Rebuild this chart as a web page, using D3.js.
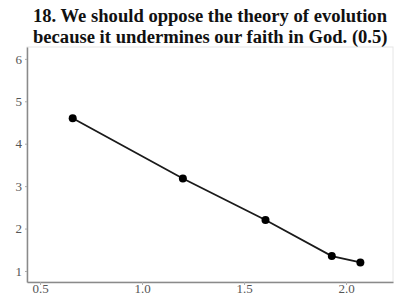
<!DOCTYPE html>
<html>
<head>
<meta charset="utf-8">
<script src="https://cdn.jsdelivr.net/npm/d3@7"></script>
<style>
  body { margin: 0; background: #fff; }
  svg { display: block; }
</style>
</head>
<body>
<svg id="chart"></svg>
<script>
// data
const titleLines = ["18. We should oppose the theory of evolution", "because it undermines our faith in God. (0.5)"];
const xValues = [0.66, 1.20, 1.605, 1.93, 2.07];
const yValues = [4.60, 3.18, 2.20, 1.35, 1.20];
const xTicks = [0.5, 1.0, 1.5, 2.0];
const yTicks = [1, 2, 3, 4, 5, 6];

const width = 395, height = 300;
const margin = {top: 47, right: 2, bottom: 18, left: 27};

const svg = d3.select("#chart")
  .attr("width", width)
  .attr("height", height);

const x = d3.scaleLinear().domain([0.436, 2.23]).range([margin.left, width - margin.right]);
const y = d3.scaleLinear().domain([0.74, 6.28]).range([height - margin.bottom, margin.top]);

// faint panel border
svg.append("rect")
  .attr("x", margin.left).attr("y", margin.top)
  .attr("width", width - margin.left - margin.right)
  .attr("height", height - margin.top - margin.bottom)
  .attr("fill", "none").attr("stroke", "#e6e6e6").attr("stroke-width", 1);

// title
svg.append("text")
  .attr("x", 33).attr("y", 22)
  .style("font-family", "'Liberation Serif', 'Times New Roman', serif")
  .style("font-weight", "bold")
  .style("font-size", "18.6px")
  .attr("fill", "#111")
  .selectAll("tspan")
  .data(titleLines)
  .enter().append("tspan")
    .attr("x", 33)
    .attr("dy", (d, i) => i == 0 ? 0 : 21)
    .text(d => d);

// axes
const xAxis = svg.append("g")
  .attr("transform", `translate(0,${height - margin.bottom})`)
  .call(d3.axisBottom(x).tickValues(xTicks).tickFormat(d3.format(".1f")).tickSize(3).tickSizeOuter(0));
const yAxis = svg.append("g")
  .attr("transform", `translate(${margin.left},0)`)
  .call(d3.axisLeft(y).tickValues(yTicks).tickFormat(d3.format("d")).tickSize(2).tickSizeOuter(0));

[xAxis, yAxis].forEach(g => {
  g.select(".domain").attr("stroke", "#8a8a8a").attr("stroke-width", 1.5);
  g.selectAll(".tick line").attr("stroke", "#aaa");
  g.selectAll("text")
    .style("font-family", "'Liberation Serif', 'Times New Roman', serif")
    .style("font-size", "13px")
    .attr("fill", "#555");
});
xAxis.selectAll("text").attr("y", 2).attr("dy", "0.71em");
yAxis.selectAll("text").attr("x", -5);

// line + points
const pts = xValues.map((v, i) => [v, yValues[i]]);
svg.append("path")
  .datum(pts)
  .attr("fill", "none")
  .attr("stroke", "#1a1a1a")
  .attr("stroke-width", 1.8)
  .attr("d", d3.line().x(d => x(d[0])).y(d => y(d[1])));

svg.selectAll("circle.pt")
  .data(pts)
  .enter().append("circle")
    .attr("class", "pt")
    .attr("cx", d => x(d[0]))
    .attr("cy", d => y(d[1]))
    .attr("r", 4)
    .attr("fill", "#000");
</script>
</body>
</html>
